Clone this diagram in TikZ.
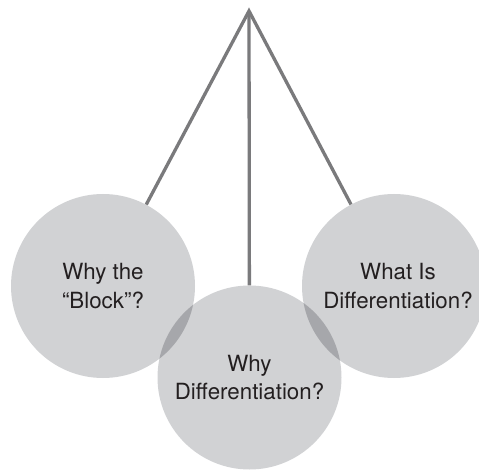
\documentclass[tikz,border=0pt]{standalone}
\usepackage{fontspec}
\setmainfont{TeX Gyre Heros}

\definecolor{bubblefill}{RGB}{209,210,212}
\definecolor{lensfill}{RGB}{166,167,171}
\definecolor{stringgray}{RGB}{122,122,124}
\definecolor{ink}{RGB}{35,31,32}

\begin{document}
\begin{tikzpicture}[x=1pt,y=1pt,
    bubble/.style={circle,fill=bubblefill,minimum size=184pt,inner sep=0pt},
    caption/.style={align=center,text=ink,font=\fontsize{22.3}{28.5}\selectfont},
    hanger/.style={draw=stringgray,line width=3.3pt,line join=miter}]
  \useasboundingbox (0,0) rectangle (479,469);
  \clip (0,0) rectangle (479,469);

  % the three bubbles
  \node[bubble] (block) at (103,183) {};
  \node[bubble] (whydiff) at (249.5,91.5) {};
  \node[bubble] (whatis) at (394,183) {};

  % darker lens where the side bubbles cross the middle one
  \begin{scope}
    \clip (whydiff.center) circle (92);
    \fill[lensfill] (block.center) circle (92);
    \fill[lensfill] (whatis.center) circle (92);
  \end{scope}

  % strings from the hook
  \coordinate (hook) at (249,458);
  \draw[hanger] (block) -- (hook) -- (whatis);
  \draw[hanger] (hook) -- (whydiff);

  % labels
  \node[caption] (blocktext) at (block) {Why the\\“Block”?};
  \node[caption] (whydifftext) at (whydiff) {Why\\Differentiation?};
  \node[caption] (whatistext) at ([xshift=4pt]whatis.center) {What Is\\Differentiation?};
\end{tikzpicture}
\end{document}
